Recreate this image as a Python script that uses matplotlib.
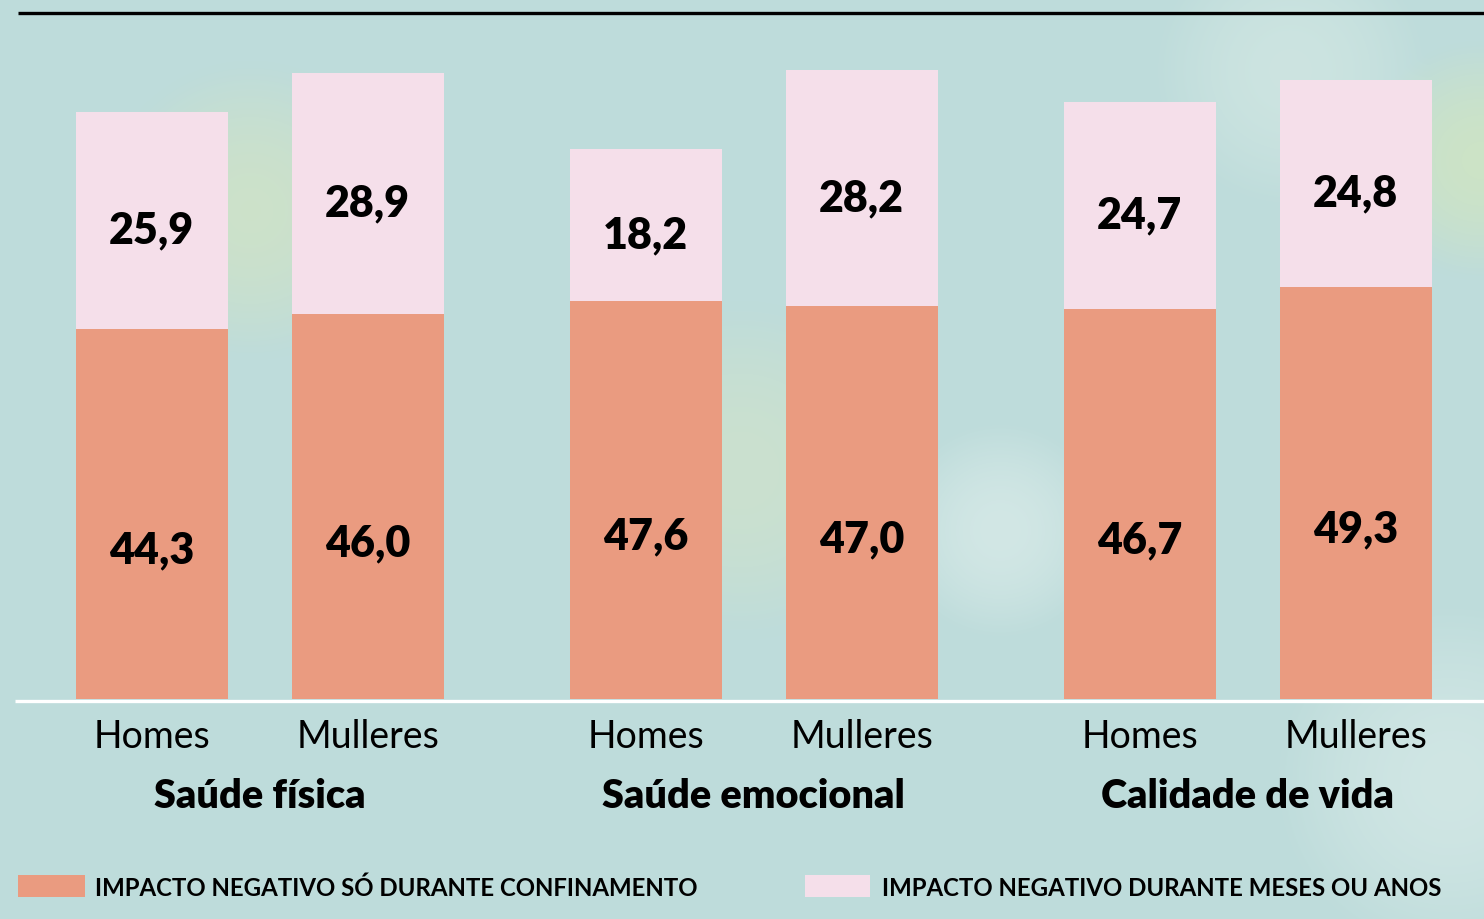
import numpy as np
import matplotlib
matplotlib.use("Agg")
import matplotlib.pyplot as plt
from matplotlib.transforms import blended_transform_factory
from matplotlib.patches import Rectangle

# ---- data ----
groups = ["Saúde física", "Saúde emocional", "Calidade de vida"]
sexes = ["Homes", "Mulleres"]
only_lockdown = [44.3, 46.0, 47.6, 47.0, 46.7, 49.3]
months_years = [25.9, 28.9, 18.2, 28.2, 24.7, 24.8]
legend_labels = ["IMPACTO NEGATIVO SÓ DURANTE CONFINAMENTO",
                 "IMPACTO NEGATIVO DURANTE MESES OU ANOS"]

# ---- style ----
BG = "#bedcdb"
ORANGE = "#ea9b80"
PINK = "#f5dfea"
W, H = 1484, 919
DPI = 100
FONT = "Lato"

fig = plt.figure(figsize=(W / DPI, H / DPI), dpi=DPI)
fig.patch.set_facecolor(BG)

# soft background blobs
bgax = fig.add_axes([0, 0, 1, 1])
yy, xx = np.mgrid[0:H, 0:W]
img = np.ones((H, W, 3)) * np.array([190, 220, 219]) / 255.0
blobs = [  # (cx, cy, r, color, strength)
    (250, 210, 150, (206, 226, 200), 0.9),
    (740, 470, 170, (206, 226, 204), 0.8),
    (1000, 530, 110, (212, 232, 230), 0.9),
    (1290, 70, 140, (208, 230, 226), 0.8),
    (1480, 160, 120, (206, 228, 196), 0.9),
    (1450, 780, 180, (212, 232, 230), 0.8),
]
for cx, cy, r, col, s in blobs:
    d2 = ((xx - cx) ** 2 + (yy - cy) ** 2) / (r ** 2)
    w = s * np.clip(1.0 - d2, 0, 1) ** 1.2
    img = img * (1 - w[..., None]) + (np.array(col) / 255.0) * w[..., None]
bgax.imshow(img, extent=[0, W, H, 0], aspect="auto", interpolation="bilinear")
bgax.set_xlim(0, W)
bgax.set_ylim(H, 0)
bgax.axis("off")

# top black rule (pixel coords)
bgax.plot([18, W], [13, 13], color="black", lw=2.4, solid_capstyle="butt")

# main axes
base_px = 699
px_per_unit = 8.36
ax = fig.add_axes([0, (H - base_px) / H, 1, base_px / H])
ax.set_facecolor("none")
group_px = 494.0
c0 = 259.75
ax.set_xlim(-c0 / group_px, (W - c0) / group_px)
ax.set_ylim(0, base_px / px_per_unit)
ax.axis("off")

offset = 108 / group_px
width = 152 / group_px
xs = []
for g in range(len(groups)):
    xs += [g - offset, g + offset]
xs = np.array(xs)

ax.bar(xs, only_lockdown, width=width, color=ORANGE, zorder=2)
ax.bar(xs, months_years, width=width, bottom=only_lockdown, color=PINK, zorder=2)

def fmt(v):
    return f"{v:.1f}".replace(".", ",")

for x, a, b in zip(xs, only_lockdown, months_years):
    ax.text(x, a / 2 - 4.4, fmt(a), ha="center", va="center", fontsize=31,
            fontfamily=FONT, fontweight="heavy", color="black", zorder=3)
    ax.text(x, a + b / 2 - 1.2, fmt(b), ha="center", va="center", fontsize=31,
            fontfamily=FONT, fontweight="heavy", color="black", zorder=3)

# white baseline
bgax.plot([15, W], [701, 701], color="white", lw=2.4, solid_capstyle="butt")

tr = blended_transform_factory(ax.transData, fig.transFigure)
for i, x in enumerate(xs):
    ax.text(x, (H - 737) / H, sexes[i % 2], transform=tr, ha="center",
            va="center", fontsize=27, fontfamily=FONT, color="black")
for g, name in enumerate(groups):
    ax.text(g, (H - 797) / H, name, transform=tr, ha="center", va="center",
            fontsize=28.5, fontfamily=FONT, fontweight="heavy", color="black")

# legend
for (x0, x1, tx), col, lab in zip([(18, 85, 95), (805, 870, 882)],
                                  [ORANGE, PINK], legend_labels):
    bgax.add_patch(Rectangle((x0, 875), x1 - x0, 22, color=col, lw=0))
    bgax.text(tx, 888, lab, ha="left", va="center", fontsize=17.3,
              fontfamily=FONT, fontweight="bold", color="black")

fig.savefig("out.png", dpi=DPI, facecolor=BG)
